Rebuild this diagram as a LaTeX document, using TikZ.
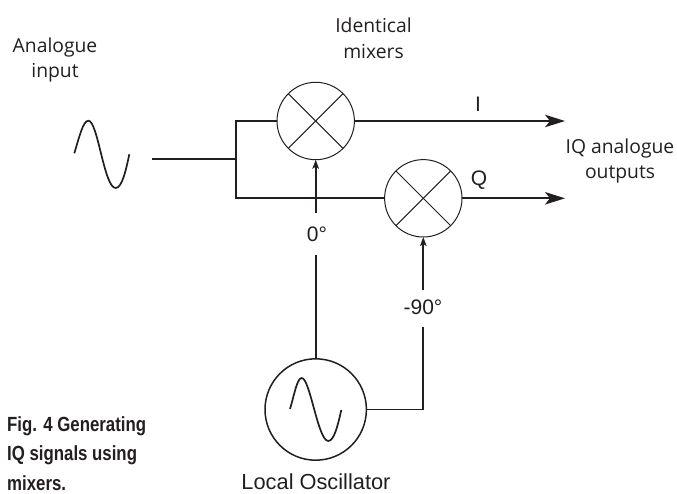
\documentclass[tikz,border=0pt]{standalone}
\usepackage{fontspec}
\setmainfont{Open Sans}
\newfontfamily\lofont{Liberation Sans}
\newfontfamily\capfont[FakeStretch=0.82]{Liberation Sans}
\usetikzlibrary{arrows.meta,calc}
\definecolor{ink}{HTML}{231F20}
\tikzset{
  wire/.style={draw=ink,line width=1.7pt},
  sigwire/.style={wire,-{Stealth[length=20pt,width=12.5pt,inset=5pt]}},
  lowire/.style={wire,-{Stealth[length=9pt,width=6.5pt,inset=2pt]}},
  mixer/.style={circle,draw=ink,line width=1pt,minimum size=77.4pt,inner sep=0pt,outer sep=0pt},
  osc/.style={circle,draw=ink,line width=1.5pt,minimum size=101.4pt,inner sep=0pt,outer sep=0pt},
  crossline/.style={draw=ink,line width=1pt},
  sine/.style={draw=ink,line width=1.7pt},
  lbl/.style={text=ink,font=\fontsize{19.3}{25.7}\selectfont,align=center,inner sep=0pt},
  hlbl/.style={text=ink,font=\lofont\fontsize{21}{25}\selectfont,inner sep=0pt},
  lolbl/.style={text=ink,font=\lofont\fontsize{21.8}{25}\selectfont,inner sep=0pt},
  caplbl/.style={text=ink,font=\capfont\bfseries\fontsize{20.5}{29.5}\selectfont,align=left,inner sep=0pt}
}
\begin{document}
\begin{tikzpicture}[x=1pt,y=-1pt]
\useasboundingbox (0,0) rectangle (677,494);
\node[mixer] (m1) at (315.7,121) {};
\node[mixer] (m2) at (423.3,198.3) {};
\node[osc] (lo) at (315.7,409.5) {};
\draw[crossline] (m1.45) -- (m1.225);
\draw[crossline] (m1.135) -- (m1.315);
\draw[crossline] (m2.45) -- (m2.225);
\draw[crossline] (m2.135) -- (m2.315);
% input sine
\draw[sine] (74.3,153.3) .. controls (79,138) and (83,120.7) .. (88.3,120.7)
  .. controls (98,120.7) and (104,188) .. (115.7,188)
  .. controls (122,188) and (126,170) .. (129.3,154.3);
% oscillator sine
\draw[sine] (290,409) .. controls (294,396) and (297,378) .. (301.7,378)
  .. controls (310,378) and (318,441) .. (328.3,441)
  .. controls (334,441) and (338,425) .. (341.3,410);
% wiring
\coordinate (in) at (151.7,159.3);
\coordinate (j) at (235.7,159.3);
\coordinate (iout) at (565,121);
\coordinate (qout) at (565,198.3);
\draw[wire] (in) -- (j);
\draw[wire,line join=miter] (m1.west) -- (j |- m1.west) -- (j |- m2.west) -- (m2.west);
\draw[sigwire] (m1.east) -- (iout);
\draw[sigwire] (m2.east) -- (qout);
\node[hlbl] (zero) at (317,234) {0°};
\node[hlbl] (ninety) at (423,307.5) {-90°};
\coordinate (z0) at (315.7,212.7);
\coordinate (n0) at (423.3,290);
\coordinate (z1) at (315.7,255);
\coordinate (n1) at (423.3,327);
\draw[lowire] (z0) -- (m1.south);
\draw[lowire] (n0) -- (m2.south);
\draw[wire] (lo.north) -- (z1);
\draw[wire] (lo.east) -- (n1 |- lo.east) -- (n1);
% labels
\node[lbl] (ai) at (55,60) {Analogue\\input};
\node[lbl] (im) at (373.5,38) {Identical\\mixers};
\node[hlbl] (il) at (478,104.5) {I};
\node[hlbl] (ql) at (479,180) {Q};
\node[lbl] (iq) at (620,161) {IQ analogue\\outputs};
\node[lolbl,anchor=base] (lol) at (316,489.5) {Local Oscillator};
\node[caplbl,anchor=north west] (cap) at (7,416) {Fig. 4 Generating\\IQ signals using\\mixers.};
\end{tikzpicture}
\end{document}
